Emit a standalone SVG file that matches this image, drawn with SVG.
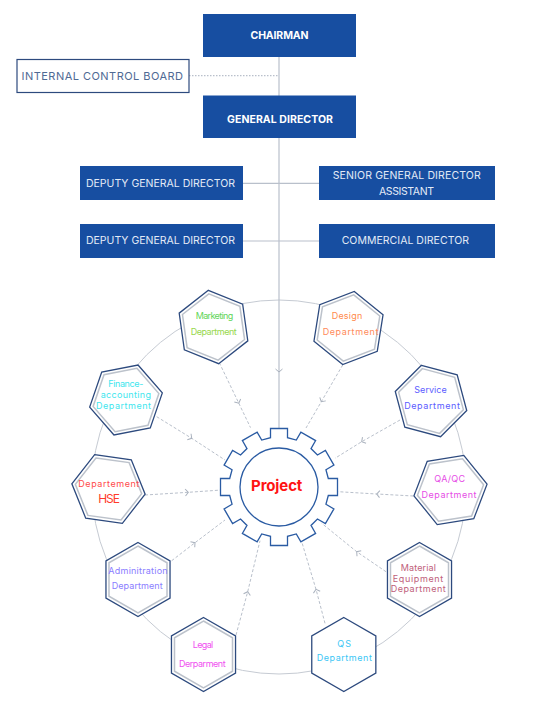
<svg xmlns="http://www.w3.org/2000/svg" xmlns:xlink="http://www.w3.org/1999/xlink" width="560" height="710" viewBox="0 0 560 710">
<style>
text{font-family:Inter,"Liberation Sans",sans-serif;text-anchor:middle}
.box{fill:#174ea1}
.bt{fill:#ffffff;font-size:10.5px;font-weight:700}
.bl{fill:#e3ebf7;font-size:10.5px}
.ho{fill:#ffffff;stroke:#2d4a7e;stroke-width:1.3}
.hi{fill:none;stroke:#bcc2cb;stroke-width:1.5}
.ht{font-size:9px}
.ring{fill:none;stroke:#c6cbd3;stroke-width:1}
.solid{fill:none;stroke:#b9c0cb;stroke-width:1.2}
.dash{fill:none;stroke:#b9c0cb;stroke-width:1;stroke-dasharray:3 2}
.dot{fill:none;stroke:#b9c0cb;stroke-width:1.2;stroke-dasharray:1.5 1.5}
</style>
<defs>
<polygon id="hexO" points="0,-37 32.04,-18.5 32.04,18.5 0,37 -32.04,18.5 -32.04,-18.5"/>
<polygon id="hexI" points="0,-33.5 29.01,-16.75 29.01,16.75 0,33.5 -29.01,16.75 -29.01,-16.75"/>
<marker id="chev" viewBox="-6 -6 12 12" markerWidth="12" markerHeight="12" markerUnits="userSpaceOnUse" orient="auto" refX="0" refY="0">
<path d="M-3,-3.5 L0,0 L-3,3.5" fill="none" stroke="#a9b1bd" stroke-width="1"/>
</marker>
</defs>
<rect width="560" height="710" fill="#ffffff"/>
<g id="ring"><circle class="ring" cx="279" cy="487" r="187"/></g>
<g id="connectors">
<polyline class="solid" points="279,57 279,372 279,428.5" marker-mid="url(#chev)"/>
<line class="dot" x1="189" y1="75.7" x2="279" y2="75.7"/>
<line class="solid" x1="243" y1="183.3" x2="319" y2="183.3"/>
<line class="solid" x1="243" y1="241" x2="319" y2="241"/>
<polyline class="dash" points="219.3,362.7 238.8,403.2 250.5,427.6" marker-mid="url(#chev)"/>
<polyline class="dash" points="342.7,365 321.3,401.7 306,428" marker-mid="url(#chev)"/>
<polyline class="dash" points="400,420 361.7,441.7 335,458.3" marker-mid="url(#chev)"/>
<polyline class="dash" points="413.3,496 376.7,494 338.3,491.7" marker-mid="url(#chev)"/>
<polyline class="dash" points="386,571.7 356.7,551.7 321.7,523.3" marker-mid="url(#chev)"/>
<polyline class="dash" points="325,623.3 316,589.3 301.7,541.7" marker-mid="url(#chev)"/>
<polyline class="dash" points="236,635 247.7,591.7 260,540.7" marker-mid="url(#chev)"/>
<polyline class="dash" points="171.7,560.7 195,542.7 225,520" marker-mid="url(#chev)"/>
<polyline class="dash" points="145,495 188.3,492.3 221.7,490" marker-mid="url(#chev)"/>
<polyline class="dash" points="156.7,416.7 191.7,438.3 225,460" marker-mid="url(#chev)"/>
</g>
<g id="chairman"><rect class="box" x="203" y="14" width="153" height="43"/><text class="bt" x="279.5" y="38.5" textLength="58">CHAIRMAN</text></g>
<g id="icb"><rect x="17" y="59.5" width="172" height="33" fill="#ffffff" stroke="#2d4a7e" stroke-width="1.2"/><text x="102.3" y="79.5" font-size="11" fill="#4f6a94" textLength="161.5">INTERNAL CONTROL BOARD</text></g>
<g id="gd"><rect class="box" x="203" y="95.5" width="153" height="42.5"/><text class="bt" x="280" y="122.5" textLength="106">GENERAL DIRECTOR</text></g>
<g id="deputy1"><rect class="box" x="80" y="166" width="163" height="34"/><text class="bl" x="160.5" y="186.5" textLength="149">DEPUTY GENERAL DIRECTOR</text></g>
<g id="senior"><rect class="box" x="319" y="166" width="176" height="34"/><text class="bl" x="406.7" y="178.5" textLength="148">SENIOR GENERAL DIRECTOR</text><text class="bl" x="406.5" y="194.5" textLength="55">ASSISTANT</text></g>
<g id="deputy2"><rect class="box" x="80" y="224" width="163" height="34"/><text class="bl" x="160.5" y="244" textLength="149">DEPUTY GENERAL DIRECTOR</text></g>
<g id="commercial"><rect class="box" x="319" y="224" width="176" height="34"/><text class="bl" x="405.3" y="244" textLength="127.3">COMMERCIAL DIRECTOR</text></g>
<g id="project">
<polygon points="270.5,437.7 270.5,428.5 287.5,428.5 287.5,437.7 296.29,440.06 300.89,432.09 315.61,440.59 311.01,448.56 317.44,454.99 325.41,450.39 333.91,465.11 325.94,469.71 328.3,478.5 337.5,478.5 337.5,495.5 328.3,495.5 325.94,504.29 333.91,508.89 325.41,523.61 317.44,519.01 311.01,525.44 315.61,533.41 300.89,541.91 296.29,533.94 287.5,536.3 287.5,545.5 270.5,545.5 270.5,536.3 261.71,533.94 257.11,541.91 242.39,533.41 246.99,525.44 240.56,519.01 232.59,523.61 224.09,508.89 232.06,504.29 229.7,495.5 220.5,495.5 220.5,478.5 229.7,478.5 232.06,469.71 224.09,465.11 232.59,450.39 240.56,454.99 246.99,448.56 242.39,440.59 257.11,432.09 261.71,440.06" fill="#ffffff" stroke="#2a5ba3" stroke-width="1.3" stroke-linejoin="miter"/>
<circle cx="279" cy="487" r="39" fill="none" stroke="#2a5ba3" stroke-width="1.3"/>
<text x="276.7" y="491" font-size="15" font-weight="700" fill="#ff1414" textLength="51.3">Project</text>
</g>
<g id="marketing"><g transform="translate(213.5,327) rotate(-8)"><use xlink:href="#hexO" class="ho"/><use xlink:href="#hexI" class="hi"/></g>
<text class="ht" x="214.5" y="319.3" font-size="8" fill="#5fd65a" textLength="37.6">Marketing</text><text class="ht" x="213.7" y="335" font-size="8" fill="#98d84c" textLength="46">Department</text></g>
<g id="design"><g transform="translate(348.5,328) rotate(9)"><use xlink:href="#hexO" class="ho"/><use xlink:href="#hexI" class="hi"/></g>
<text class="ht" x="347" y="319.3" fill="#ff8a4c" textLength="30.6">Design</text><text class="ht" x="350.5" y="335" fill="#ff8a5a" textLength="55.7">Department</text></g>
<g id="service"><g transform="translate(431,401) rotate(-15)"><use xlink:href="#hexO" class="ho"/><use xlink:href="#hexI" class="hi"/></g>
<text class="ht" x="430.5" y="392.7" fill="#5b5bff" textLength="32.4">Service</text><text class="ht" x="432" y="409.3" fill="#5b5bff" textLength="55.7">Department</text></g>
<g id="qaqc"><g transform="translate(450.5,490) rotate(21)"><use xlink:href="#hexO" class="ho"/><use xlink:href="#hexI" class="hi"/></g>
<text class="ht" x="449.7" y="481.7" fill="#e64ce6" textLength="30.7">QA/QC</text><text class="ht" x="449" y="498.3" fill="#e64ce6" textLength="55">Department</text></g>
<g id="material"><g transform="translate(419.5,579.5)"><use xlink:href="#hexO" class="ho"/><use xlink:href="#hexI" class="hi"/></g>
<text class="ht" x="418.3" y="570.7" fill="#c0607a" textLength="35.3">Material</text><text class="ht" x="418" y="581.7" fill="#c0607a" textLength="50.6">Equipment</text><text class="ht" x="418.2" y="592.3" fill="#c0607a" textLength="55">Department</text></g>
<g id="qs"><g transform="translate(343.8,654.5)"><use xlink:href="#hexO" class="ho"/></g>
<text class="ht" x="344.2" y="646.7" fill="#3cc6f5" textLength="13.7">QS</text><text class="ht" x="344.3" y="660.7" fill="#3cc6f5" textLength="55.3">Department</text></g>
<g id="legal"><g transform="translate(203.5,654.5)"><use xlink:href="#hexO" class="ho"/><use xlink:href="#hexI" class="hi"/></g>
<text class="ht" x="203" y="648.3" font-size="8.5" fill="#f050f0" textLength="20.6">Legal</text><text class="ht" x="202.3" y="667.3" font-size="8.5" fill="#f050f0" textLength="46.7">Derparment</text></g>
<g id="admin"><g transform="translate(138,579.5)"><use xlink:href="#hexO" class="ho"/><use xlink:href="#hexI" class="hi"/></g>
<text class="ht" x="138" y="574" font-size="8.5" fill="#8a7dff" textLength="59.3">Adminitration</text><text class="ht" x="137.2" y="589.3" font-size="8.5" fill="#8a7dff" textLength="51">Department</text></g>
<g id="hse"><g transform="translate(108.5,489) rotate(-22)"><use xlink:href="#hexO" class="ho"/><use xlink:href="#hexI" class="hi"/></g>
<text class="ht" x="108.8" y="486.7" fill="#ff4a4a" textLength="61">Departement</text><text x="109" y="502.7" font-size="12" fill="#ff3b2a" textLength="21.7">HSE</text></g>
<g id="finance"><g transform="translate(126,400) rotate(19)"><use xlink:href="#hexO" class="ho"/><use xlink:href="#hexI" class="hi"/></g>
<text class="ht" x="125.8" y="386.7" fill="#3ee6ee" textLength="35">Finance-</text><text class="ht" x="125.8" y="398.3" fill="#3ee6ee" textLength="50.3">accounting</text><text class="ht" x="123.5" y="409.3" fill="#3ee6ee" textLength="55">Department</text></g>
</svg>
